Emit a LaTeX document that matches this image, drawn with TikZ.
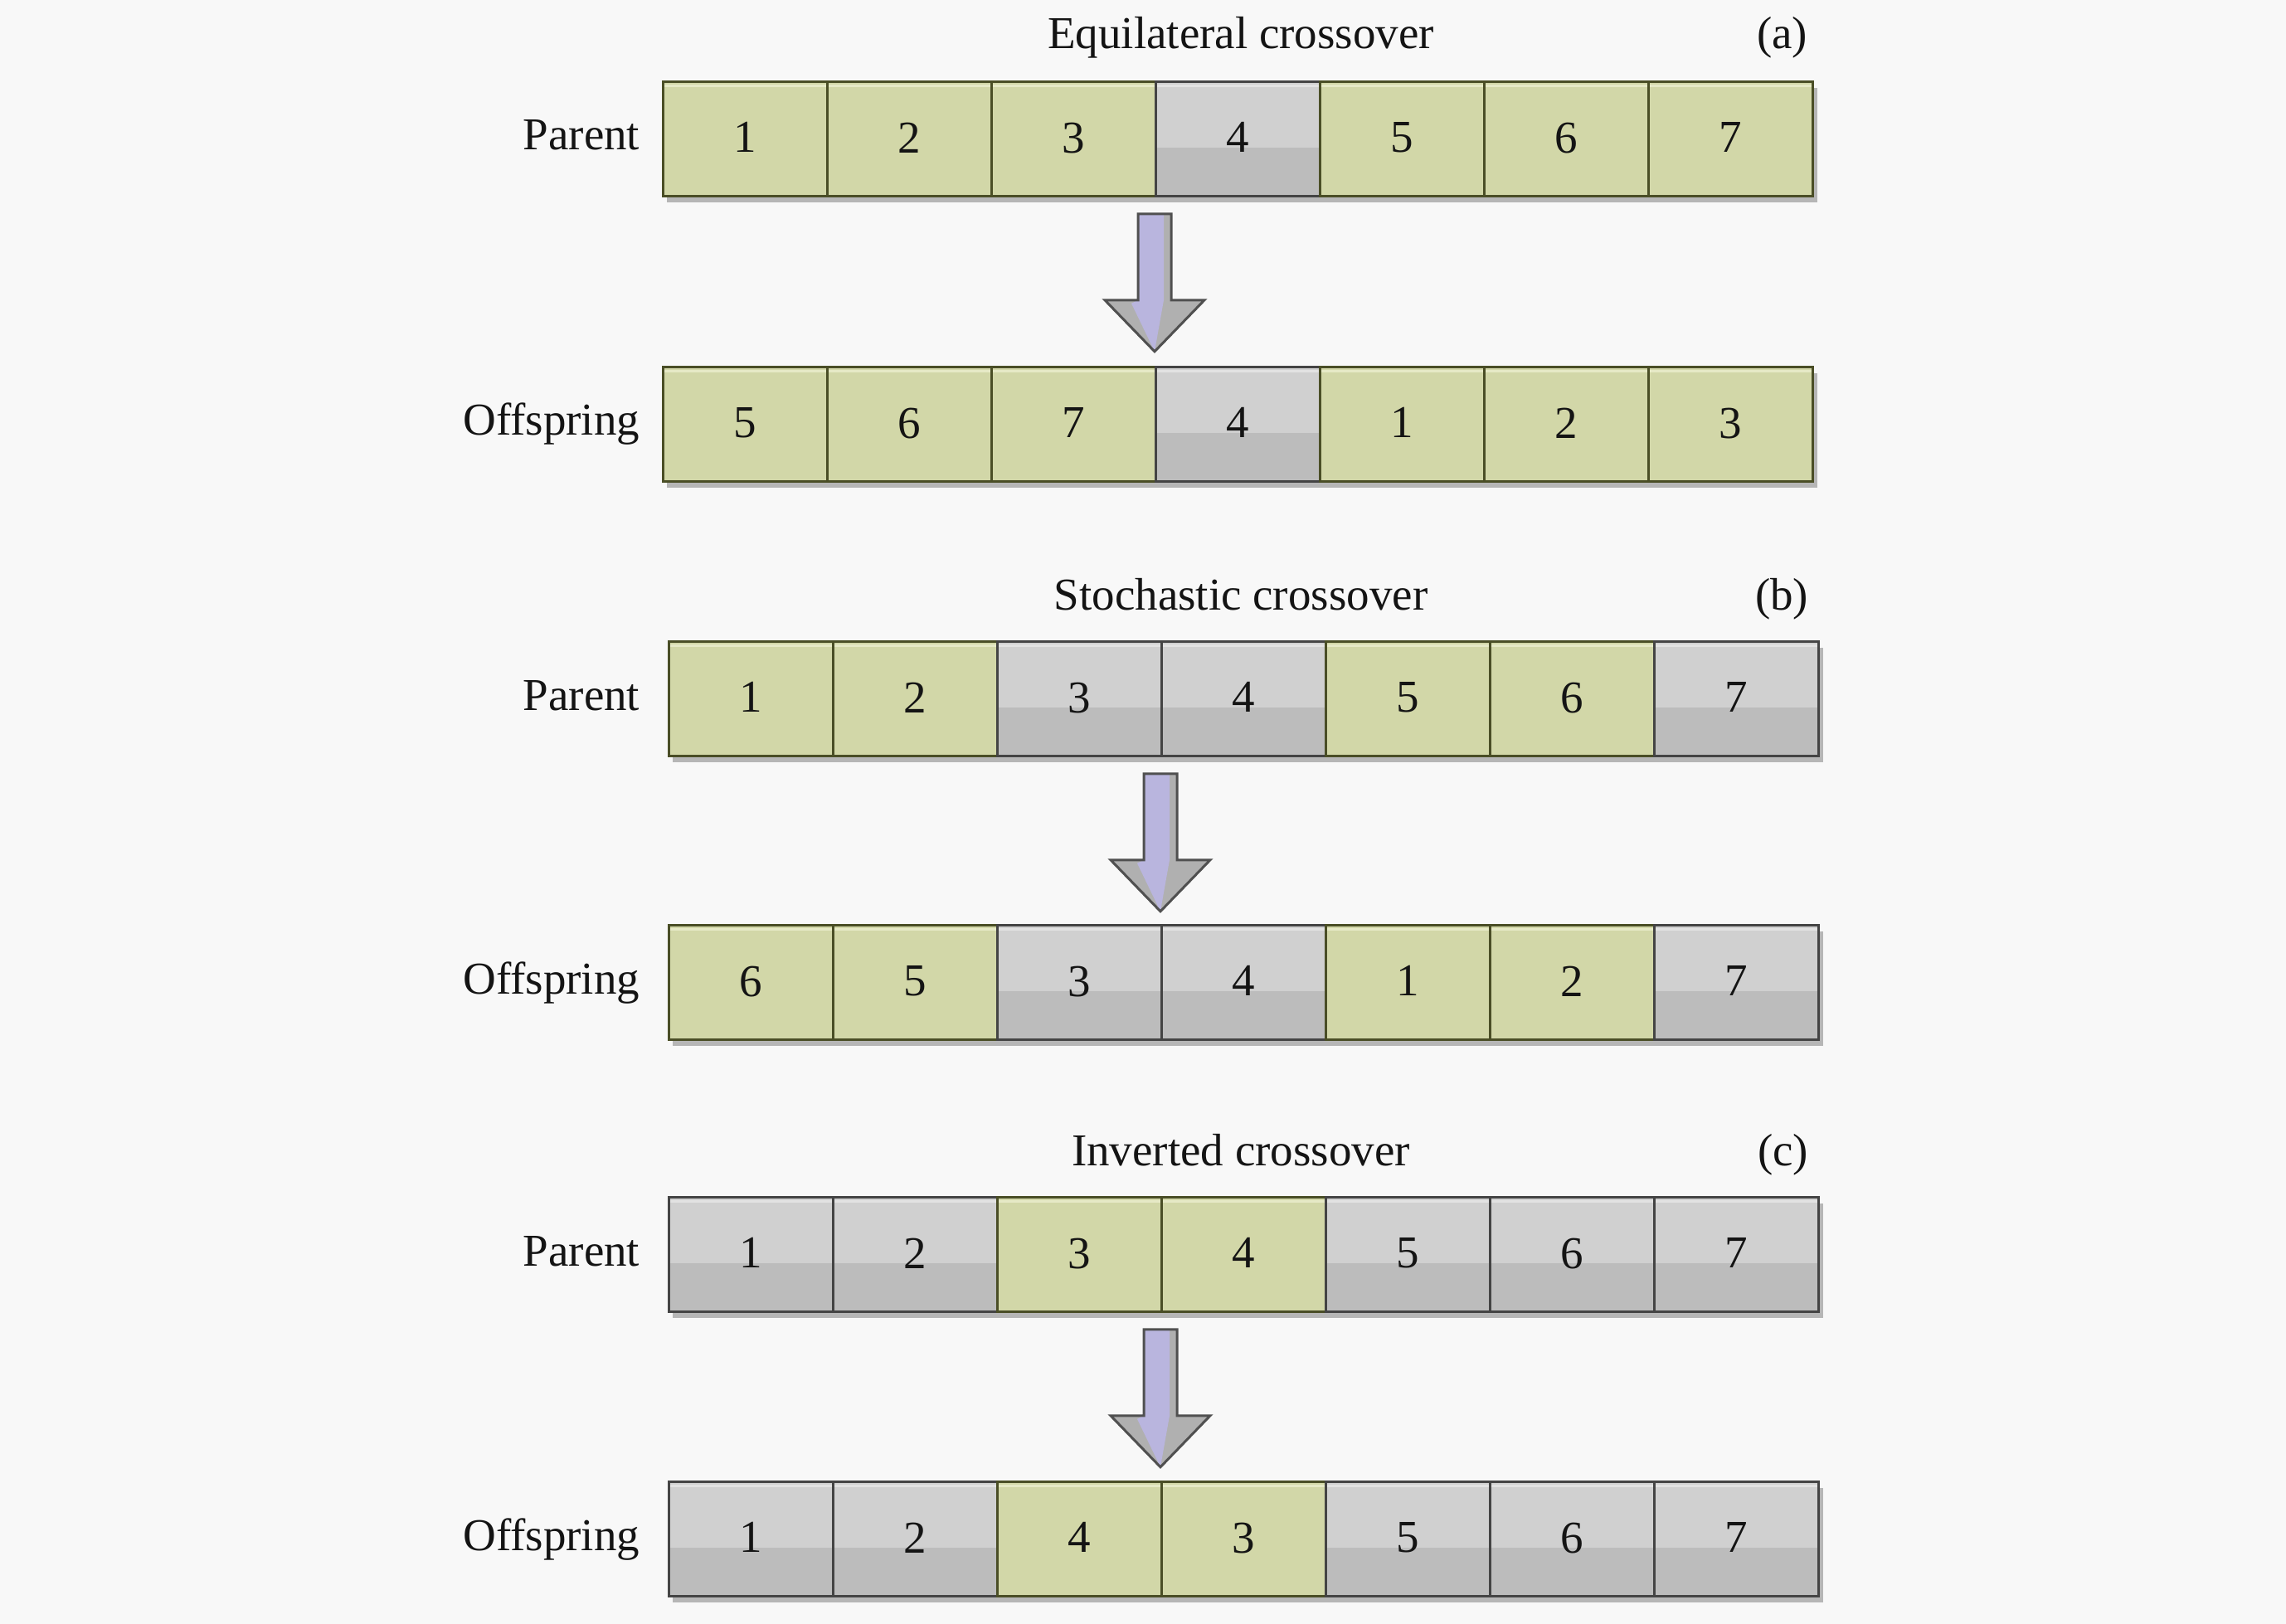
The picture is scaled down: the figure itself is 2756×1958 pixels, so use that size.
\documentclass[tikz,border=0pt]{standalone}
\usepackage{fontspec}
\setmainfont{Liberation Serif}
\usetikzlibrary{calc}
\definecolor{bg}{HTML}{F8F8F8}
\definecolor{cgreen}{HTML}{D2D7A8}
\definecolor{cgreenhi}{HTML}{E6E9C6}
\definecolor{cgreenbd}{HTML}{4A4E26}
\definecolor{cgraytop}{HTML}{D0D0D0}
\definecolor{cgraybot}{HTML}{BCBCBC}
\definecolor{cgrayhi}{HTML}{E2E2E2}
\definecolor{cgraybd}{HTML}{444444}
\definecolor{shadowc}{HTML}{B6B6B6}
\definecolor{arrowfill}{HTML}{B9B5DE}
\definecolor{arrowgray}{HTML}{B0B0B0}
\definecolor{arrowbd}{HTML}{505050}
\tikzset{
  x=0.25pt, y=-0.25pt,
  every node/.style={font=\fontsize{13.75}{16}\selectfont, text=black!92},
  cellbox/.style={rectangle, inner sep=0pt, minimum width=49.5pt, minimum height=34.5pt,
    line width=0.7pt, anchor=north west},
  gcell/.style={cellbox, draw=cgreenbd, fill=cgreen,
    path picture={\draw[cgreenhi,line width=0.8pt]
      ([yshift=-1.3pt]path picture bounding box.north west) --
      ([yshift=-1.3pt]path picture bounding box.north east);}},
  xcell/.style={cellbox, draw=cgraybd, fill=cgraytop,
    path picture={\fill[cgraybot]
      ($(path picture bounding box.south west)!0.42!(path picture bounding box.north west)$)
      rectangle (path picture bounding box.south east);
      \draw[cgrayhi,line width=0.8pt]
      ([yshift=-1.3pt]path picture bounding box.north west) --
      ([yshift=-1.3pt]path picture bounding box.north east);}},
  rowlabel/.style={anchor=base east, inner sep=0pt},
  titlelabel/.style={anchor=base, inner sep=0pt},
  taglabel/.style={anchor=base east, inner sep=0pt},
  arrowline/.style={draw=arrowbd, line width=0.75pt, line join=miter},
}
\newcommand\cellrow[4]{%
  \fill[shadowc] (#2+6,#3+9) rectangle (#2+1386+7,#3+138+9);
  \foreach \d/\t [count=\i from 0] in {#4} {
    \node[\t] (#1\i) at (#2+\i*198,#3) {\raisebox{0.8pt}{\d}};
  }%
}
\newcommand\blockarrow[1]{%
  \begin{scope}[shift={(#1)}]
    \fill[arrowgray] (-20,20) -- (20,20) -- (20,124) -- (60,124) -- (0,186) -- (-60,124) -- (-20,124) -- cycle;
    \fill[arrowfill] (-20,20) -- (11,20) -- (11,124) -- (0,186) -- (-28,128) -- (-20,124) -- cycle;
    \draw[arrowline] (-20,20) -- (20,20) -- (20,124) -- (60,124) -- (0,186) -- (-60,124) -- (-20,124) -- cycle;
  \end{scope}%
}
\begin{document}
\begin{tikzpicture}
\useasboundingbox (0,0) rectangle (2756,1958);
\fill[bg] (0,0) rectangle (2756,1958);

% ---------- (a)
\node[titlelabel] (ta) at (1496,59) {Equilateral crossover};
\node[taglabel] (tga) at (2180,59) {(a)};
\node[rowlabel] (laP) at (772,181) {Parent};
\cellrow{aP}{798}{97}{1/gcell,2/gcell,3/gcell,4/xcell,5/gcell,6/gcell,7/gcell}
\node[rowlabel] (laO) at (772,525) {Offspring};
\cellrow{aO}{798}{441}{5/gcell,6/gcell,7/gcell,4/xcell,1/gcell,2/gcell,3/gcell}
\blockarrow{aP3.south west}

% ---------- (b)
\node[titlelabel] (tb) at (1496,735) {Stochastic crossover};
\node[taglabel] (tgb) at (2181,735) {(b)};
\node[rowlabel] (lbP) at (772,856) {Parent};
\cellrow{bP}{805}{772}{1/gcell,2/gcell,3/xcell,4/xcell,5/gcell,6/gcell,7/xcell}
\node[rowlabel] (lbO) at (772,1198) {Offspring};
\cellrow{bO}{805}{1114}{6/gcell,5/gcell,3/xcell,4/xcell,1/gcell,2/gcell,7/xcell}
\blockarrow{bP3.south west}

% ---------- (c)
\node[titlelabel] (tc) at (1496,1405) {Inverted crossover};
\node[taglabel] (tgc) at (2181,1405) {(c)};
\node[rowlabel] (lcP) at (772,1526) {Parent};
\cellrow{cP}{805}{1442}{1/xcell,2/xcell,3/gcell,4/gcell,5/xcell,6/xcell,7/xcell}
\node[rowlabel] (lcO) at (772,1869) {Offspring};
\cellrow{cO}{805}{1785}{1/xcell,2/xcell,4/gcell,3/gcell,5/xcell,6/xcell,7/xcell}
\blockarrow{cP3.south west}
\end{tikzpicture}
\end{document}
